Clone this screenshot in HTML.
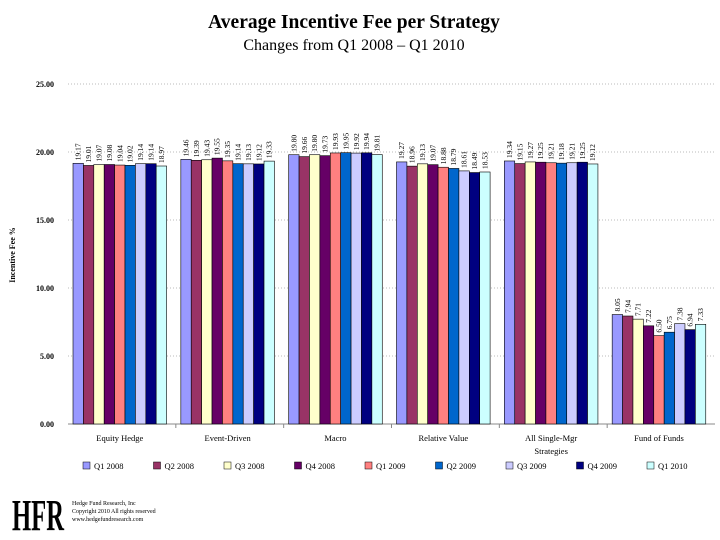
<!DOCTYPE html>
<html><head><meta charset="utf-8"><style>
body{margin:0;background:#fff;}
svg{display:block;font-family:"Liberation Serif",serif;}
</style></head><body>
<svg id="c" width="720" height="540" viewBox="0 0 720 540">
<text x="354" y="28" text-anchor="middle" font-size="19.5" font-weight="bold">Average Incentive Fee per Strategy</text>
<text x="354" y="50" text-anchor="middle" font-size="16">Changes from  Q1 2008 – Q1 2010</text>
<text transform="translate(15,255) rotate(-90)" text-anchor="middle" font-size="8" font-weight="bold">Incentive Fee %</text>
<g id="grid"></g><g id="bars"></g><g id="labels"></g><g id="legend"></g>
<text x="12" y="530" font-size="44" font-weight="bold" textLength="52" lengthAdjust="spacingAndGlyphs">HFR</text>
<text x="72" y="505" font-size="6">Hedge Fund Research, Inc</text>
<text x="72" y="513" font-size="6">Copyright 2010  All rights reserved</text>
<text x="72" y="521" font-size="6">www.hedgefundresearch.com</text>
</svg>
<script>
const categories=["Equity Hedge","Event-Driven","Macro","Relative Value","All Single-Mgr|Strategies","Fund of Funds"];
const seriesNames=["Q1 2008","Q2 2008","Q3 2008","Q4 2008","Q1 2009","Q2 2009","Q3 2009","Q4 2009","Q1 2010"];
const colors=["#9999ff","#993366","#ffffcc","#660066","#ff8080","#0066cc","#ccccff","#000080","#ccffff"];
const q1_2008=[19.17,19.46,19.80,19.27,19.34,8.05];
const q2_2008=[19.01,19.39,19.66,18.96,19.15,7.94];
const q3_2008=[19.07,19.43,19.80,19.13,19.27,7.71];
const q4_2008=[19.08,19.55,19.73,19.07,19.25,7.22];
const q1_2009=[19.04,19.35,19.93,18.88,19.21,6.50];
const q2_2009=[19.02,19.14,19.95,18.79,19.18,6.75];
const q3_2009=[19.14,19.13,19.92,18.61,19.21,7.38];
const q4_2009=[19.14,19.12,19.94,18.49,19.25,6.94];
const q1_2010=[18.97,19.33,19.81,18.53,19.12,7.33];
const series=[q1_2008,q2_2008,q3_2008,q4_2008,q1_2009,q2_2009,q3_2009,q4_2009,q1_2010];
const yTicks=[0,5,10,15,20,25];
const NS="http://www.w3.org/2000/svg";
const X0=68,X1=715,Y0=424,Y1=84,YMAX=25;
const y=v=>Y0-(v/YMAX)*(Y0-Y1);
const gw=(X1-X0)/categories.length, bw=10.4;
const gx=i=>X0+i*gw+5;
function mk(t,a,p){const e=document.createElementNS(NS,t);for(const k in a)e.setAttribute(k,a[k]);p.appendChild(e);return e;}
const grid=document.getElementById('grid'),bars=document.getElementById('bars'),labels=document.getElementById('labels'),leg=document.getElementById('legend');
yTicks.forEach(t=>{
  if(t>0){const l=mk('line',{x1:X0,x2:X1,y1:y(t),y2:y(t),stroke:'#bbb','stroke-dasharray':'1,2'},grid);
  
  }
  const tx=mk('text',{x:X0-14,y:y(t)+3,'text-anchor':'end','font-size':8,'font-weight':'bold'},grid);
  tx.textContent=t.toFixed(2);
  
  
});
const ax=mk('line',{x1:X0,x2:X1,y1:Y0,y2:Y0,stroke:'#888'},grid);


categories.forEach((c,i)=>{
  const parts=c.split('|');
  parts.forEach((p,k)=>{
    const t=mk('text',{x:gx(i)+4.5*bw,y:441+k*13,'text-anchor':'middle','font-size':8.5},labels);
    t.textContent=p;
    
    
  });
  if(i>0){const tk=mk('line',{x1:X0+i*gw,x2:X0+i*gw,y1:Y0,y2:Y0+4,stroke:'#888'},grid);
  
  }
});
series.forEach((arr,s)=>{
  arr.forEach((v,i)=>{
    const bx=gx(i)+s*bw;
    const r=mk('rect',{x:bx,y:y(v),width:bw,height:Y0-y(v),fill:colors[s],stroke:'#000','stroke-width':0.6},bars);
    
    
    const t=mk('text',{transform:`translate(${bx+bw/2+2.5},${y(v)-3}) rotate(-90)`,'font-size':7.5},labels);
    t.textContent=v.toFixed(2);
    
    
  });
});
seriesNames.forEach((n,s)=>{
  const lx=83+s*70.5;
  const r=mk('rect',{x:lx,y:462,width:7,height:7,fill:colors[s],stroke:'#000','stroke-width':0.5},leg);
  
  
  const t=mk('text',{x:lx+11,y:469,'font-size':8.5},leg);
  t.textContent=n;
  
  
});
</script>
</body></html>
